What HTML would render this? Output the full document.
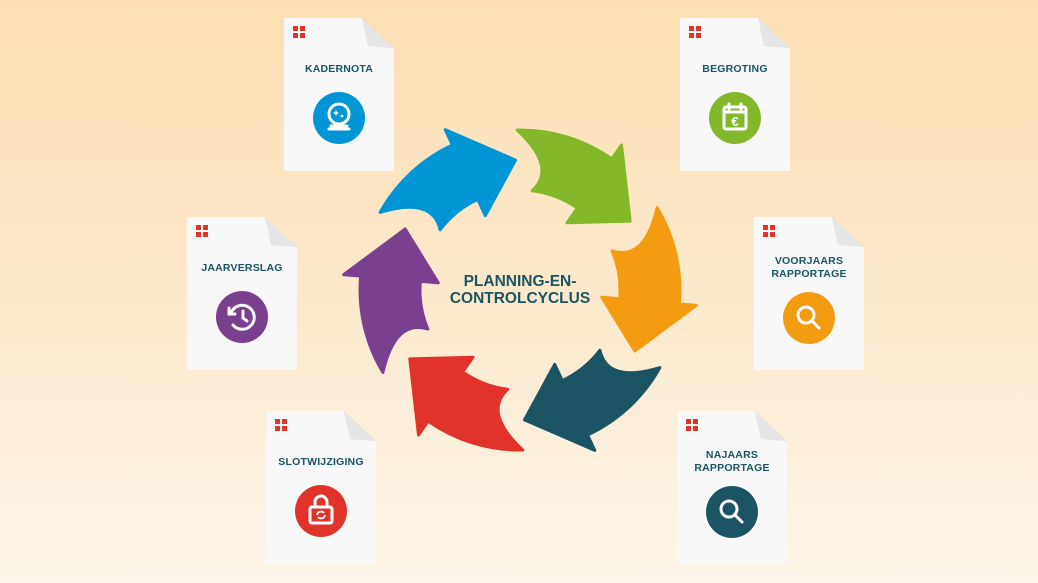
<!DOCTYPE html>
<html><head><meta charset="utf-8"><style>
html,body{margin:0;padding:0}
body{width:1038px;height:583px;overflow:hidden;position:relative;background:linear-gradient(#fbdfb2 0%,#fce9cc 50%,#fdf5ea 100%);font-family:"Liberation Sans",sans-serif}
.card{position:absolute;width:110px;height:153px;background:#f8f8f8;clip-path:polygon(0 0,78px 0,110px 30px,110px 153px,0 153px);box-shadow:0 0 3px rgba(0,0,0,.1)}
.fold{position:absolute;width:110px;height:153px}
.dots{position:absolute;left:9px;top:8px;width:12px;height:12px}
.dots i{position:absolute;width:5px;height:5px;background:#e2332a}
.t{position:absolute;left:0;width:110px;text-align:center;font-weight:bold;font-size:10.5px;line-height:13px;color:#1b5563;letter-spacing:.2px}
.ic{position:absolute;left:29px;width:52px;height:52px;border-radius:50%}
.ic svg{position:absolute;left:0;top:0}
.center{position:absolute;left:430px;top:273px;width:180px;text-align:center;font-weight:bold;font-size:15.5px;line-height:17px;color:#1b5563}
</style></head><body>
<svg id="arr" width="1038" height="583" style="position:absolute;left:0;top:0"></svg>
<div class="center">PLANNING-EN-<br>CONTROLCYCLUS</div>

<div id="cards"></div>
<script>
var cx=520,cy=290;
function P(r,a){a=a*Math.PI/180;return (cx+r*Math.cos(a)).toFixed(1)+','+(cy+r*Math.sin(a)).toFixed(1);}
var cols=['#0096d6','#84b82a','#f39c12','#1b5563','#e2332a','#7b3f8f'];
var s='';
for(var k=0;k<6;k++){
 var t=214+60*k,h=t+31,tip=t+54,Ro=160,Ri=100;
 var d='M'+P(Ro,t-5)+' A'+Ro+','+Ro+' 0 0 1 '+P(Ro,h)+' L'+P(177,h)+' L'+P(130,tip)+' L'+P(82,h)+' L'+P(Ri,h)+
 ' A'+Ri+','+Ri+' 0 0 0 '+P(Ri,t+3)+' Q'+P(128,t+13)+' '+P(Ro,t-5)+' Z';
 s+='<path d="'+d+'" fill="'+cols[k]+'" stroke="'+cols[k]+'" stroke-width="3" stroke-linejoin="round"/>';
}
document.getElementById('arr').innerHTML=s;
var W='stroke="#fff" fill="none" stroke-width="3" stroke-linecap="round"';
var icons={
 ball:'<circle cx="26" cy="22" r="10" '+W+'/><path d="M18 34h16M16 37h20" '+W+'/><path d="M23 18l1 2 2 1-2 1-1 2-1-2-2-1 2-1z M29 22l.7 1.3 1.3.7-1.3.7-.7 1.3-.7-1.3-1.3-.7 1.3-.7z" fill="#fff"/>',
 cal:'<rect x="15" y="15" width="22" height="22" rx="2" '+W+'/><path d="M15 20h22M20 12v5M32 12v5" '+W+'/><text x="26" y="34" text-anchor="middle" fill="#fff" font-size="13" font-weight="bold" font-family="Liberation Sans">€</text>',
 hist:'<path d="M15 22a12 12 0 1 1 2 12" '+W+'/><path d="M13 17v6h6" '+W+'/><path d="M27 20v7l4 3" '+W+'/>',
 mag:'<circle cx="23" cy="23" r="8" '+W+'/><path d="M29 29l7 7" '+W+'/>',
 lock:'<rect x="15" y="22" width="22" height="16" rx="2" '+W+'/><path d="M20 22v-5a6 6 0 0 1 12 0v5" '+W+'/><path d="M22 30a4 4 0 0 1 7-2M30 30a4 4 0 0 1-7 2" stroke="#fff" fill="none" stroke-width="1.8"/>'
};
var cards=[
 [284,18,['KADERNOTA'],'#0096d6','ball'],
 [680,18,['BEGROTING'],'#84b82a','cal'],
 [187,217,['JAARVERSLAG'],'#7b3f8f','hist'],
 [754,217,['VOORJAARS','RAPPORTAGE'],'#f39c12','mag'],
 [266,411,['SLOTWIJZIGING'],'#e2332a','lock'],
 [677,411,['NAJAARS','RAPPORTAGE'],'#1b5563','mag']
];
var h='';
cards.forEach(function(c){
 var two=c[2].length>1;
 h+='<div style="position:absolute;left:'+c[0]+'px;top:'+c[1]+'px;width:110px;height:153px">'+
 '<div class="card" style="left:0;top:0"></div>'+
 '<svg class="fold" viewBox="0 0 110 153"><path d="M78 0 L110 30 L84 28 Z" fill="#d2d2d2"/><path d="M78 0 L84 28 L110 30" fill="#e6e6e6"/></svg>'+
 '<div class="dots"><i style="left:0;top:0"></i><i style="left:7px;top:0"></i><i style="left:0;top:7px"></i><i style="left:7px;top:7px"></i></div>'+
 '<div class="t" style="top:'+(two?38:45)+'px">'+c[2].join('<br>')+'</div>'+
 '<div class="ic" style="top:'+(two?75:74)+'px;background:'+c[3]+'"><svg width="52" height="52" viewBox="0 0 52 52">'+icons[c[4]]+'</svg></div></div>';
});
document.getElementById('cards').innerHTML=h;
</script>
</body></html>
